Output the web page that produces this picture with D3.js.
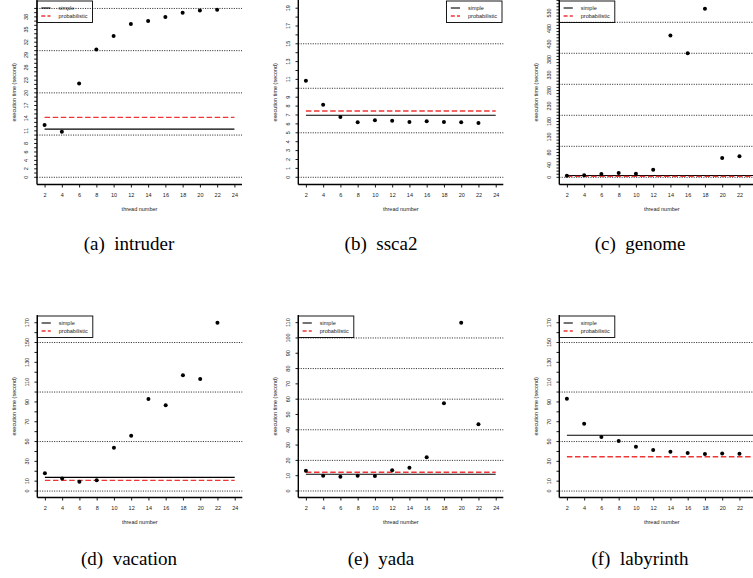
<!DOCTYPE html>
<html>
<head>
<meta charset="utf-8">
<script src="https://cdn.jsdelivr.net/npm/d3@7"></script>
<style>
    body { margin: 0; background: #fff; }
    svg { display: block; }
    text { font-family: "Liberation Sans", Arial, sans-serif; fill: #222; }
    .caption { font-family: "Liberation Serif", "Times New Roman", serif; font-size: 19px; fill: #000; white-space: pre; }
</style>
</head>
<body>
<svg id="chart" width="753" height="578"></svg>
<script>
// thread counts on the x axis
const threads = [2, 4, 6, 8, 10, 12, 14, 16, 18, 20, 22];
const xTickValues = [2, 4, 6, 8, 10, 12, 14, 16, 18, 20, 22, 24];
const legendLabels = ["simple", "probabilistic"];

// execution time (second) per benchmark, one value per thread count
const intruderTimes = [12.4, 10.8, 22.2, 30.3, 33.5, 36.3, 37.0, 38.0, 39.0, 39.5, 39.7];
const ssca2Times = [10.85, 8.16, 6.78, 6.18, 6.4, 6.36, 6.2, 6.29, 6.2, 6.18, 6.1];
const genomeTimes = [5, 7, 10.6, 14, 11.6, 24.5, 457, 400, 544, 62, 67.7];
const vacationTimes = [17.9, 12.8, 9.4, 10.8, 43.7, 55.9, 92.9, 86.6, 116.9, 113.1, 170];
const yadaTimes = [13.3, 10, 9.3, 10, 9.8, 13.5, 15.2, 22, 57.3, 110, 43.6];
const labyrinthTimes = [93.2, 68, 54.5, 50.5, 44.7, 41.4, 39.7, 38.4, 37.4, 38, 37.7];

// reference levels: [simple, probabilistic]
const intruderLevels = [11.4, 14.2];
const ssca2Levels = [6.97, 7.45];
const genomeLevels = [6, 3];
const vacationLevels = [13.8, 10.8];
const yadaLevels = [10.9, 12.2];
const labyrinthLevels = [56.3, 34.7];

// y tick labels as printed
const intruderTickLabels = [0, 2, 4, 6, 8, 11, 14, 17, 20, 23, 26, 29, 32, 35, 38];
const ssca2TickLabels = [0, 1, 2, 3, 4, 5, 6, 7, 8, 9, 11, 13, 15, 17, 19];
const genomeTickLabels = [0, 40, 80, 130, 180, 230, 280, 330, 380, 430, 480, 530];
const vacationTickLabels = [0, 10, 30, 50, 70, 90, 110, 130, 150, 170];
const yadaTickLabels = [0, 10, 20, 30, 40, 50, 60, 70, 80, 90, 100, 110];
const labyrinthTickLabels = [0, 10, 30, 50, 70, 90, 110, 130, 150, 170];

// dotted reference lines
const intruderGrid = [0, 10, 20, 30, 40];
const ssca2Grid = [0, 5, 10, 15];
const genomeGrid = [0, 100, 200, 300, 400, 500];
const vacationGrid = [0, 50, 100, 150];
const yadaGrid = [0, 20, 40, 60, 80, 100];
const labyrinthGrid = [0, 50, 100, 150];

// layout of the six panels (pixels)
const panels = [
    { tag: "(a)", name: "intruder", times: intruderTimes, levels: intruderLevels, labels: intruderTickLabels,
      grid: intruderGrid, minor: d3.range(0, 41, 1), left: 37, top: 0, bottom: 184.5,
      yDomain: [-1.71, 42.0], legend: "left", capX: 129, capY: 250 },
    { tag: "(b)", name: "ssca2", times: ssca2Times, levels: ssca2Levels, labels: ssca2TickLabels,
      grid: ssca2Grid, minor: d3.range(0, 20, 1), left: 298.3, top: 0, bottom: 184.5,
      yDomain: [-0.81, 19.92], legend: "right", capX: 381, capY: 250 },
    { tag: "(c)", name: "genome", times: genomeTimes, levels: genomeLevels, labels: genomeTickLabels,
      grid: genomeGrid, minor: d3.range(0, 571, 10), left: 559.3, top: 0, bottom: 184.5,
      yDomain: [-23.2, 571.9], legend: "left", capX: 640, capY: 250 },
    { tag: "(d)", name: "vacation", times: vacationTimes, levels: vacationLevels, labels: vacationTickLabels,
      grid: vacationGrid, minor: d3.range(0, 171, 10), left: 37.3, top: 315, bottom: 497.5,
      yDomain: [-6.5, 177.8], legend: "left", capX: 129, capY: 565 },
    { tag: "(e)", name: "yada", times: yadaTimes, levels: yadaLevels, labels: yadaTickLabels,
      grid: yadaGrid, minor: d3.range(0, 111, 10), left: 298.3, top: 315, bottom: 497.5,
      yDomain: [-4.25, 115.0], legend: "left", capX: 381, capY: 565 },
    { tag: "(f)", name: "labyrinth", times: labyrinthTimes, levels: labyrinthLevels, labels: labyrinthTickLabels,
      grid: labyrinthGrid, minor: d3.range(0, 171, 10), left: 559.3, top: 315, bottom: 497.5,
      yDomain: [-6.5, 177.8], legend: "left", capX: 640, capY: 565 }
];

const plotWidth = 205;
const svg = d3.select("#chart");

panels.forEach(p => {
    const right = p.left + plotWidth;
    const x = d3.scaleLinear().domain([1.12, 24.88]).range([p.left, right]);
    const y = d3.scaleLinear().domain(p.yDomain).range([p.bottom, p.top]);
    const g = svg.append("g").attr("class", "panel " + p.name);

    // dotted grid
    g.selectAll(".grid")
        .data(p.grid)
        .enter()
        .append("line")
        .attr("x1", p.left)
        .attr("x2", right)
        .attr("y1", d => y(d))
        .attr("y2", d => y(d))
        .attr("stroke", "#333")
        .attr("stroke-width", 1)
        .attr("stroke-dasharray", "1.1,1.3");

    // left axis: minor ticks + printed labels
    g.selectAll(".ytick")
        .data(p.minor)
        .enter()
        .append("line")
        .attr("x1", p.left - 2.8)
        .attr("x2", p.left)
        .attr("y1", d => y(d))
        .attr("y2", d => y(d))
        .attr("stroke", "#000")
        .attr("stroke-width", 0.9);

    g.selectAll(".ylabel")
        .data(p.labels)
        .enter()
        .append("text")
        .attr("transform", d => `translate(${p.left - 8.6},${y(d)}) rotate(-90)`)
        .attr("text-anchor", "middle")
        .attr("font-size", "5.5px")
        .text(d => d);

    // bottom axis
    const xAxis = d3.axisBottom(x)
        .tickValues(xTickValues)
        .tickSize(3)
        .tickPadding(5.5)
        .tickFormat(d3.format("d"));
    const xg = g.append("g")
        .attr("transform", `translate(0,${p.bottom})`)
        .call(xAxis);
    xg.select(".domain").remove();
    xg.selectAll(".tick line").attr("stroke", "#000").attr("stroke-width", 0.9);
    xg.selectAll(".tick text")
        .attr("font-family", "Liberation Sans, Arial, sans-serif")
        .attr("font-size", "5.5px")
        .attr("fill", "#222");

    // frame lines (left and bottom)
    g.append("line")
        .attr("x1", p.left).attr("x2", p.left)
        .attr("y1", p.top).attr("y2", p.bottom)
        .attr("stroke", "#000").attr("stroke-width", 1.4);
    g.append("line")
        .attr("x1", p.left).attr("x2", right)
        .attr("y1", p.bottom).attr("y2", p.bottom)
        .attr("stroke", "#000").attr("stroke-width", 1.4);

    // axis titles
    g.append("text")
        .attr("x", (p.left + right) / 2)
        .attr("y", p.bottom + 26.5)
        .attr("text-anchor", "middle")
        .attr("font-size", "5.5px")
        .text("thread number");
    g.append("text")
        .attr("transform", `translate(${p.left - 21},${(p.top + p.bottom) / 2}) rotate(-90)`)
        .attr("text-anchor", "middle")
        .attr("font-size", "5.5px")
        .text("execution time (second)");

    // simple / probabilistic levels
    g.append("line")
        .attr("x1", x(2)).attr("x2", x(24))
        .attr("y1", y(p.levels[0])).attr("y2", y(p.levels[0]))
        .attr("stroke", "#000").attr("stroke-width", 1.1);
    g.append("line")
        .attr("x1", x(2)).attr("x2", x(24))
        .attr("y1", y(p.levels[1])).attr("y2", y(p.levels[1]))
        .attr("stroke", "#f03535").attr("stroke-width", 1.4)
        .attr("stroke-dasharray", "5.5,2.6");

    // points
    g.selectAll(".pt")
        .data(p.times)
        .enter()
        .append("circle")
        .attr("cx", (d, i) => x(threads[i]))
        .attr("cy", d => y(d))
        .attr("r", 2)
        .attr("fill", "#000");

    // legend
    const lw = 55.5, lh = 21.5;
    const lx = p.legend === "left" ? p.left : right - lw - 1.3;
    const ly = p.top + 1;
    const lg = g.append("g").attr("transform", `translate(${lx},${ly})`);
    lg.append("rect")
        .attr("width", lw).attr("height", lh)
        .attr("fill", "none").attr("stroke", "#000").attr("stroke-width", 0.9);
    legendLabels.forEach((lab, i) => {
        const ry = 7 + i * 8;
        lg.append("line")
            .attr("x1", 4.3).attr("x2", 13.5)
            .attr("y1", ry).attr("y2", ry)
            .attr("stroke", i === 0 ? "#000" : "#f03535")
            .attr("stroke-width", i === 0 ? 1.1 : 1.4)
            .attr("stroke-dasharray", i === 0 ? null : "4,2.2");
        lg.append("text")
            .attr("x", 21.5)
            .attr("y", ry + 1.9)
            .attr("font-size", "5.5px")
            .text(lab);
    });

    // caption
    svg.append("text")
        .attr("class", "caption")
        .attr("x", p.capX)
        .attr("y", p.capY)
        .attr("text-anchor", "middle")
        .text(p.tag + "  " + p.name);
});
</script>
</body>
</html>
